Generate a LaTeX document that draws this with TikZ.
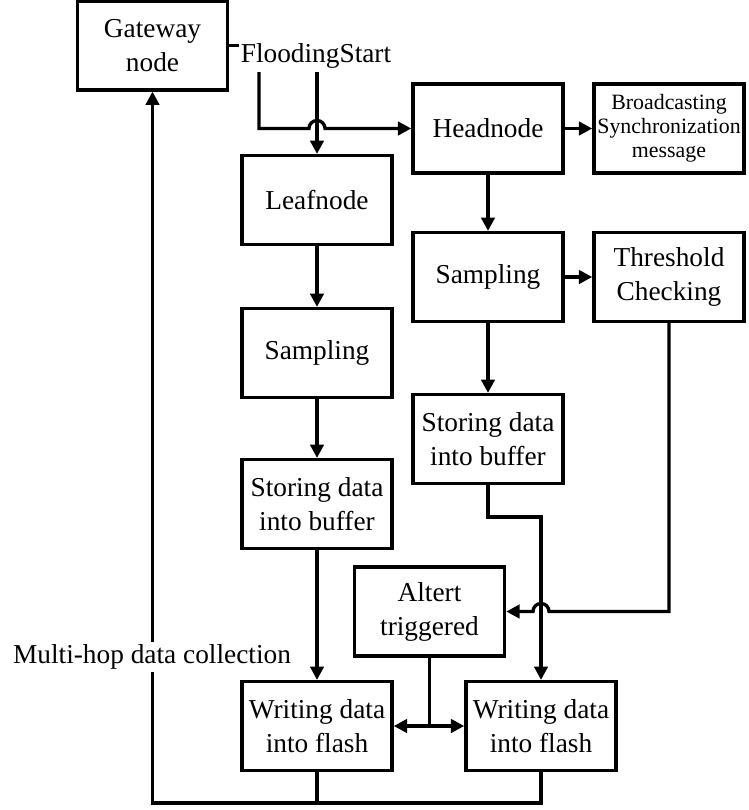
\documentclass[tikz,border=0pt]{standalone}
\usepackage{fontspec}
\setmainfont{Liberation Serif}
\usetikzlibrary{arrows.meta, calc}

\tikzset{
  block/.style={draw, line width=2.6pt, minimum width=112.5pt, minimum height=66.5pt,
    align=center, inner sep=0pt, font=\fontsize{20.5}{25.5}\selectfont},
  small/.style={font=\fontsize{16.4}{18}\selectfont},
  flow/.style={line width=2.5pt, -{Triangle[length=10pt,width=10pt]}},
  link/.style={line width=2.5pt},
}

\begin{document}
\begin{tikzpicture}[x=0.75pt, y=-0.75pt]
  \useasboundingbox (0,0) rectangle (749,810);

  % blocks
  \node[block] (gw) at (152.5,45.5) {Gateway\\node};
  \node[font=\fontsize{20.5}{25.5}\selectfont, inner sep=1pt] (flood) at (316,56) {FloodingStart};
  \node[block] (head) at (488,128.5) {Headnode};
  \node[block, small] (bcast) at (669,128.5) {Broadcasting\\Synchronization\\message};
  \node[block] (leaf) at (317,200) {Leafnode};
  \node[block] (lsamp) at (317,353) {Sampling};
  \node[block] (lstore) at (317,504) {Storing data\\into buffer};
  \node[block] (rsamp) at (488,277) {Sampling};
  \node[block] (thresh) at (669,277) {Threshold\\Checking};
  \node[block] (rstore) at (488,439) {Storing data\\into buffer};
  \node[block] (alert) at (429.5,611.5) {Altert\\triggered};
  \node[block] (lwrite) at (317,726) {Writing data\\into flash};
  \node[block] (rwrite) at (541,726) {Writing data\\into flash};

  \coordinate (fsl) at (259,72);
  \coordinate (fsm) at (317,72);
  \coordinate (gwbase) at (152.5,803);

  % flooding start
  \draw[link] (gw.east) -- (gw.east -| flood.west);
  \draw[flow] (fsl) -- (fsl |- head.west) -- ($(fsm |- head.west)+(-8,0)$) arc (180:360:8) -- (head.west);
  \draw[flow] (fsm) -- (leaf.north);

  % head node side
  \draw[flow] (head.east) -- (bcast.west);
  \draw[flow] (head.south) -- (rsamp.north);
  \draw[flow] (rsamp.east) -- (thresh.west);
  \draw[flow] (rsamp.south) -- (rstore.north);
  \draw[flow] (rstore.south) -- ++(0,32) -| (rwrite.north);
  \draw[flow] (thresh.south) |- ($(rwrite.north |- alert.east)+(8,0)$) arc (0:-180:8) -- (alert.east);

  % leaf node side
  \draw[flow] (leaf.south) -- (lsamp.north);
  \draw[flow] (lsamp.south) -- (lstore.north);
  \draw[flow] (lstore.south) -- (lwrite.north);

  % alert
  \draw[link] (alert.south) -- (alert.south |- lwrite.east);
  \draw[link, {Triangle[length=10pt,width=10pt]}-{Triangle[length=10pt,width=10pt]}] (lwrite.east) -- (rwrite.west);

  % back to gateway
  \draw[flow] (rwrite.south) |- (gwbase) -- (gw.south);
  \draw[link] (lwrite.south) -- (lwrite.south |- gwbase);
  \node[fill=white, inner sep=2pt, font=\fontsize{20.5}{25.5}\selectfont] (hop) at (152,657) {Multi-hop data collection};
\end{tikzpicture}
\end{document}
